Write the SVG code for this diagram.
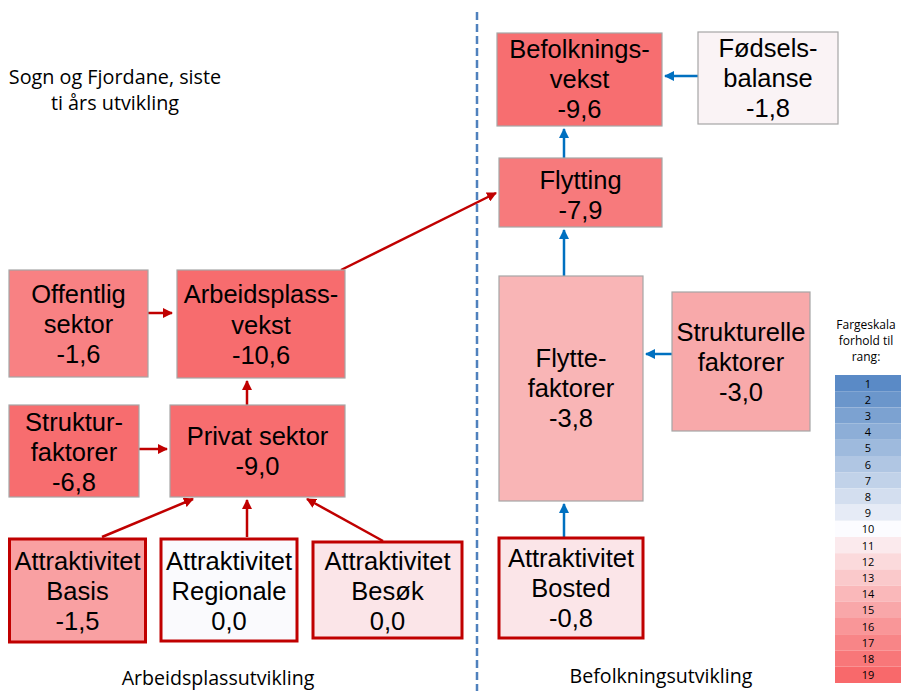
<svg xmlns="http://www.w3.org/2000/svg" width="901" height="691" viewBox="0 0 901 691">
<defs>
<marker id="ar" viewBox="0 0 10 10" refX="9" refY="5" markerWidth="4" markerHeight="4" orient="auto" markerUnits="strokeWidth"><path d="M0,0 L10,5 L0,10 z" fill="#C00000"/></marker>
<marker id="ab" viewBox="0 0 10 10" refX="9" refY="5" markerWidth="4" markerHeight="4" orient="auto" markerUnits="strokeWidth"><path d="M0,0 L10,5 L0,10 z" fill="#0070C0"/></marker>
</defs>
<style>
.n{stroke:#A6A6A6;stroke-width:1.2}
.t{stroke:#C00000;stroke-width:3}
.l{font-family:"Liberation Sans",Arial,sans-serif;font-size:25.5px;fill:#000;text-anchor:middle}
.c{font-family:"Open Sans","Liberation Sans",sans-serif;fill:#000;text-anchor:middle}
.r{stroke:#C00000;stroke-width:2.5;fill:none;marker-end:url(#ar)}
.b{stroke:#0070C0;stroke-width:2.5;fill:none;marker-end:url(#ab)}
.g{font-family:"Open Sans","Liberation Sans",sans-serif;font-size:11px;fill:#000;text-anchor:middle}
</style>
<rect width="901" height="691" fill="#fff"/>
<text class="c" font-size="19.8" x="115" y="84">Sogn og Fjordane, siste</text>
<text class="c" font-size="19.8" x="115" y="110">ti års utvikling</text>
<line x1="477" y1="12" x2="477" y2="691" stroke="#4F81BD" stroke-width="2.5" stroke-dasharray="8,4"/>
<g id="connectors">
<line class="b" x1="698" y1="76" x2="665" y2="76"/>
<line class="b" x1="564" y1="158" x2="564" y2="129"/>
<line class="b" x1="564" y1="276" x2="564" y2="230"/>
<line class="b" x1="672" y1="354" x2="646" y2="354"/>
<line class="b" x1="564" y1="537" x2="564" y2="504"/>
<line class="r" x1="341" y1="270" x2="496" y2="193"/>
<line class="r" x1="148" y1="313" x2="172" y2="313"/>
<line class="r" x1="247" y1="405" x2="247" y2="381"/>
<line class="r" x1="139" y1="449" x2="167" y2="449"/>
<line class="r" x1="102" y1="537" x2="193" y2="499"/>
<line class="r" x1="247" y1="537" x2="247" y2="500"/>
<line class="r" x1="383" y1="541" x2="307" y2="499"/>
</g>
<g id="befolkningsvekst"><rect class="n" x="497" y="33" width="165" height="93" fill="#F76E70"/>
<text class="l" x="579.5" y="58">Befolknings-</text><text class="l" x="579.5" y="88">vekst</text><text class="l" x="579.5" y="118">-9,6</text></g>
<g id="fodselsbalanse"><rect class="n" x="698" y="32" width="140" height="92" fill="#FAF3F5"/>
<text class="l" x="768" y="57">Fødsels-</text><text class="l" x="768" y="87">balanse</text><text class="l" x="768" y="117">-1,8</text></g>
<g id="flytting"><rect class="n" x="499" y="158" width="163" height="69" fill="#F77A7C"/>
<text class="l" x="580.5" y="189">Flytting</text><text class="l" x="580.5" y="219">-7,9</text></g>
<g id="offentlig"><rect class="n" x="9" y="270" width="139" height="107" fill="#F88183"/>
<text class="l" x="78.5" y="303">Offentlig</text><text class="l" x="78.5" y="333">sektor</text><text class="l" x="78.5" y="363">-1,6</text></g>
<g id="arbeidsplassvekst"><rect class="n" x="177" y="270" width="168" height="108" fill="#F76C6E"/>
<text class="l" x="261" y="303">Arbeidsplass-</text><text class="l" x="261" y="334">vekst</text><text class="l" x="261" y="364">-10,6</text></g>
<g id="strukturfaktorer"><rect class="n" x="9" y="405" width="130" height="92" fill="#F76D6F"/>
<text class="l" x="74" y="431">Struktur-</text><text class="l" x="74" y="461">faktorer</text><text class="l" x="74" y="491">-6,8</text></g>
<g id="privat"><rect class="n" x="170" y="405" width="175" height="92" fill="#F76D6F"/>
<text class="l" x="257.5" y="445">Privat sektor</text><text class="l" x="257.5" y="475">-9,0</text></g>
<g id="flyttefaktorer"><rect class="n" x="499" y="276" width="144" height="225" fill="#F9B5B6"/>
<text class="l" x="571" y="367">Flytte-</text><text class="l" x="571" y="397">faktorer</text><text class="l" x="571" y="427">-3,8</text></g>
<g id="strukturelle"><rect class="n" x="672" y="292" width="138" height="139" fill="#F8A9AA"/>
<text class="l" x="741" y="341">Strukturelle</text><text class="l" x="741" y="371">faktorer</text><text class="l" x="741" y="401">-3,0</text></g>
<g id="basis"><rect class="t" x="9.5" y="539" width="136" height="103" fill="#F9A0A2"/>
<text class="l" x="77.5" y="570">Attraktivitet</text><text class="l" x="77.5" y="600">Basis</text><text class="l" x="77.5" y="630">-1,5</text></g>
<g id="regionale"><rect class="t" x="161" y="539" width="136" height="102" fill="#FAFAFD"/>
<text class="l" x="229" y="570">Attraktivitet</text><text class="l" x="229" y="600">Regionale</text><text class="l" x="229" y="630">0,0</text></g>
<g id="besok"><rect class="t" x="313" y="542" width="149" height="96" fill="#FBE5E8"/>
<text class="l" x="387.5" y="570">Attraktivitet</text><text class="l" x="387.5" y="600">Besøk</text><text class="l" x="387.5" y="630">0,0</text></g>
<g id="bosted"><rect class="t" x="499" y="538" width="144" height="100" fill="#FBE5E8"/>
<text class="l" x="571" y="567">Attraktivitet</text><text class="l" x="571" y="597">Bosted</text><text class="l" x="571" y="627">-0,8</text></g>
<text class="c" font-size="19.6" x="218" y="685">Arbeidsplassutvikling</text>
<text class="c" font-size="19.6" x="661" y="683">Befolkningsutvikling</text>
<g id="legend">
<text class="c" font-size="12" x="866" y="329">Fargeskala</text>
<text class="c" font-size="12" x="866" y="345">forhold til</text>
<text class="c" font-size="12" x="866" y="361">rang:</text>
<rect x="835" y="375" width="66" height="16.2" fill="#5A8AC6"/>
<rect x="835" y="391.2" width="66" height="16.2" fill="#6B96CB"/>
<rect x="835" y="407.4" width="66" height="16.2" fill="#7CA2D1"/>
<rect x="835" y="423.6" width="66" height="16.2" fill="#8DAED7"/>
<rect x="835" y="439.8" width="66" height="16.2" fill="#9EBADD"/>
<rect x="835" y="456" width="66" height="16.2" fill="#B0C6E3"/>
<rect x="835" y="472.2" width="66" height="16.2" fill="#C1D2E9"/>
<rect x="835" y="488.4" width="66" height="16.2" fill="#D3DEEF"/>
<rect x="835" y="504.6" width="66" height="16.2" fill="#E6EBF6"/>
<rect x="835" y="520.8" width="66" height="16.2" fill="#FCFCFF"/>
<rect x="835" y="537" width="66" height="16.2" fill="#FBEAED"/>
<rect x="835" y="553.2" width="66" height="16.2" fill="#FBDADC"/>
<rect x="835" y="569.4" width="66" height="16.2" fill="#FAC9CB"/>
<rect x="835" y="585.6" width="66" height="16.2" fill="#FAB8BA"/>
<rect x="835" y="601.8" width="66" height="16.2" fill="#F9A7A9"/>
<rect x="835" y="618" width="66" height="16.2" fill="#F99698"/>
<rect x="835" y="634.2" width="66" height="16.2" fill="#F88587"/>
<rect x="835" y="650.4" width="66" height="16.2" fill="#F87779"/>
<rect x="835" y="666.6" width="66" height="16.4" fill="#F8696B"/>
<text class="g" x="868" y="387.5">1</text>
<text class="g" x="868" y="403.7">2</text>
<text class="g" x="868" y="419.9">3</text>
<text class="g" x="868" y="436.1">4</text>
<text class="g" x="868" y="452.3">5</text>
<text class="g" x="868" y="468.5">6</text>
<text class="g" x="868" y="484.7">7</text>
<text class="g" x="868" y="500.9">8</text>
<text class="g" x="868" y="517.1">9</text>
<text class="g" x="868" y="533.3">10</text>
<text class="g" x="868" y="549.5">11</text>
<text class="g" x="868" y="565.7">12</text>
<text class="g" x="868" y="581.9">13</text>
<text class="g" x="868" y="598.1">14</text>
<text class="g" x="868" y="614.3">15</text>
<text class="g" x="868" y="630.5">16</text>
<text class="g" x="868" y="646.7">17</text>
<text class="g" x="868" y="662.9">18</text>
<text class="g" x="868" y="679.1">19</text>
</g>
</svg>
